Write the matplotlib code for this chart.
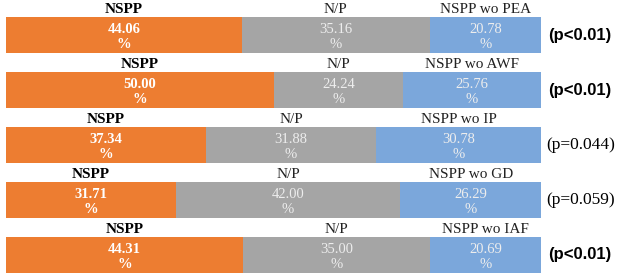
import matplotlib
matplotlib.use('Agg')
from matplotlib import pyplot as plt

# data
comparisons = ['PEA', 'AWF', 'IP', 'GD', 'IAF']
nspp = [44.06, 50.00, 37.34, 31.71, 44.31]
np_tie = [35.16, 24.24, 31.88, 42.00, 35.00]
nspp_wo = [20.78, 25.76, 30.78, 26.29, 20.69]
p_values = ['(p<0.01)', '(p<0.01)', '(p=0.044)', '(p=0.059)', '(p<0.01)']
p_bold = [True, True, False, False, True]

orange = '#ED7D31'
gray = '#A5A5A5'
blue = '#7BA7DB'
serif = ['Liberation Serif', 'DejaVu Serif']

fig = plt.figure(figsize=(6.18, 2.79), dpi=100)
ax = fig.add_axes([6 / 618, 0, 535 / 618, 1])
row_px = 55.0
ax.set_ylim((279 - 35) / row_px, -35 / row_px)
ax.set_xlim(0, 100)
ax.axis('off')
h = 36 / row_px

for i in range(len(comparisons)):
    a, b, c = nspp[i], np_tie[i], nspp_wo[i]
    ax.barh(i, a, left=0, height=h, color=orange)
    ax.barh(i, b, left=a, height=h, color=gray)
    ax.barh(i, c, left=a + b, height=h, color=blue)

    top = i - h / 2 - 0.02
    ax.text(a / 2, top, 'NSPP', ha='center', va='bottom', fontsize=11,
            fontweight='bold', family=serif, color='black')
    ax.text(a + b / 2, top, 'N/P', ha='center', va='bottom', fontsize=11,
            family=serif, color='#222222')
    ax.text(a + b + c / 2, top, 'NSPP wo ' + comparisons[i], ha='center',
            va='bottom', fontsize=11, family=serif, color='#222222')

    yv = i + 0.04
    ax.text(a / 2, yv, '%.2f\n%%' % a, ha='center', va='center', fontsize=10.5,
            fontweight='bold', family=serif, color='white', linespacing=1.2)
    ax.text(a + b / 2, yv, '%.2f\n%%' % b, ha='center', va='center', fontsize=10.5,
            family=serif, color='#EDEDED', linespacing=1.2)
    ax.text(a + b + c / 2, yv, '%.2f\n%%' % c, ha='center', va='center',
            fontsize=10.5, family=serif, color='#EDEDED', linespacing=1.2)

    if p_bold[i]:
        ax.text(101.3, i, p_values[i], ha='left', va='center', fontsize=12,
                fontweight='bold', family=['Liberation Sans', 'DejaVu Sans'],
                clip_on=False)
    else:
        ax.text(100.9, i, p_values[i], ha='left', va='center', fontsize=12.5,
                family=serif, clip_on=False)

fig.savefig('out.png', dpi=100)
